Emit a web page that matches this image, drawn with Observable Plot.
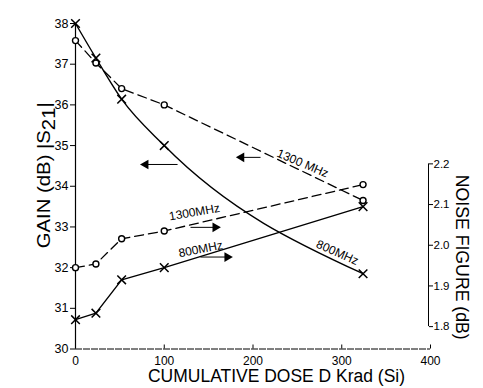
<!DOCTYPE html>
<html>
<head>
<meta charset="utf-8">
<script src="https://cdn.jsdelivr.net/npm/d3@7"></script>
<script src="https://cdn.jsdelivr.net/npm/@observablehq/plot@0.6"></script>
<style>
  html, body { margin: 0; padding: 0; background: #fff; }
  #chart { width: 483px; height: 388px; }
</style>
</head>
<body>
<div id="chart"></div>
<script>
// ---- data ----
const dose      = [0, 23, 52, 100, 324];               // Krad (Si)
const gain800   = [38.0, 37.15, 36.14, 35.0, 31.85];    // dB, left axis
const gain1300  = [37.58, 37.03, 36.4, 36.0, 33.65];    // dB, left axis
const nf800     = [1.817, 1.833, 1.915, 1.945, 2.095];  // dB, right axis
const nf1300    = [1.945, 1.954, 2.016, 2.035, 2.149];  // dB, right axis

const xTicks    = [0, 100, 200, 300, 400];
const gainTicks = [30, 31, 32, 33, 34, 35, 36, 37, 38];
const nfTicks   = [1.8, 1.9, 2.0, 2.1, 2.2];

const xLabel  = "CUMULATIVE DOSE D Krad (Si)";
const yLabel  = "GAIN (dB) |S21|";
const y2Label = "NOISE FIGURE (dB)";

// annotation anchors (data coordinates)
const noteText   = ["1300 MHz", "800MHz", "1300MHz", "800MHz"];
const noteDose   = [256, 295, 134, 141];
const noteGain   = [34.56, 32.37, 33.36, 32.45];
const noteAngle  = [23, 24, -10, -11];

const arrowFrom  = [208.5, 115, 129.6, 140.8];
const arrowTo    = [187, 79, 157.5, 171];
const arrowGain  = [34.71, 34.535, 32.99, 32.26];
const arrowDir   = [-1, -1, 1, 1];   // -1 = points left (gain axis), 1 = points right (NF axis)

// right axis shares the frame: 1.8 dB NF sits at 30.55 on the gain scale, 0.1 dB NF = 1 dB gain
const NF_REF = 1.8, GAIN_AT_NF_REF = 30.55, GAIN_PER_NF = 10;
const nfToY = v => GAIN_AT_NF_REF + (v - NF_REF) * GAIN_PER_NF;

const rows = ys => dose.map((d, i) => ({x: d, y: ys[i]}));
const g800 = rows(gain800), g1300 = rows(gain1300);
const n800 = rows(nf800.map(nfToY)), n1300 = rows(nf1300.map(nfToY));
const notes = noteText.map((t, i) => ({t, x: noteDose[i], y: noteGain[i], r: noteAngle[i]}));
const arrows = arrowFrom.map((x1, i) => ({x1, x2: arrowTo[i], y: arrowGain[i], dir: arrowDir[i]}));

const FONT = "'Liberation Sans Narrow', 'Liberation Sans', Arial, sans-serif";

const chart = Plot.plot({
  width: 483,
  height: 388,
  marginLeft: 75,
  marginRight: 53,
  marginTop: 23,
  marginBottom: 39.5,
  x: {domain: [0, 400]},
  y: {domain: [30, 38]},
  style: {fontFamily: FONT, fontSize: "12.5px", color: "black", background: "white"},
  marks: [
    // axis lines
    Plot.ruleX([0], {stroke: "black", strokeWidth: 1.2}),
    Plot.ruleY([30], {stroke: "black", strokeWidth: 1, strokeDasharray: "7,1"}),
    Plot.ruleX([400], {y1: nfToY(nfTicks[0]), y2: nfToY(nfTicks[nfTicks.length - 1]), dx: -2, stroke: "black", strokeWidth: 1}),
    // axes
    Plot.axisY({ticks: gainTicks, tickSize: 5, tickPadding: 2, label: null, tickFormat: d => d}),
    Plot.axisX({ticks: xTicks, tickSize: -4, tickPadding: 11.5, fontSize: 12, label: null, tickFormat: d => d}),
    Plot.axisY({anchor: "right", ticks: nfTicks.map(nfToY), tickSize: 4, tickPadding: 1, dx: -2, fontSize: 11.5, label: null,
                tickFormat: d => ((d - GAIN_AT_NF_REF) / GAIN_PER_NF + NF_REF).toFixed(1)}),
    // gain curves
    Plot.line(g800, {x: "x", y: "y", curve: "monotone-x", stroke: "black", strokeWidth: 1.4}),
    Plot.line(g1300, {x: "x", y: "y", stroke: "black", strokeWidth: 1.3, strokeDasharray: "9,5"}),
    // noise figure curves
    Plot.line(n800, {x: "x", y: "y", stroke: "black", strokeWidth: 1.4}),
    Plot.line(n1300, {x: "x", y: "y", stroke: "black", strokeWidth: 1.3, strokeDasharray: "9,5"}),
    // markers
    Plot.dot(g800, {x: "x", y: "y", symbol: "times", r: 4, stroke: "black", strokeWidth: 1.5}),
    Plot.dot(n800, {x: "x", y: "y", symbol: "times", r: 4, stroke: "black", strokeWidth: 1.5}),
    Plot.dot(g1300, {x: "x", y: "y", symbol: "circle", r: 3, stroke: "black", fill: "white", strokeWidth: 1.4}),
    Plot.dot(n1300, {x: "x", y: "y", symbol: "circle", r: 3, stroke: "black", fill: "white", strokeWidth: 1.4}),
    // arrows
    Plot.link(arrows, {x1: "x1", x2: "x2", y1: "y", y2: "y", stroke: "black", strokeWidth: 1}),
    Plot.dot(arrows, {x: "x2", y: "y", symbol: "triangle", r: 3.6, fill: "black", stroke: "none",
                      rotate: d => d.dir * 90}),
    // curve labels
    Plot.text(notes, {x: "x", y: "y", text: "t", rotate: "r", fontSize: 12, fill: "black",
                      fontFamily: "'Liberation Sans', Arial, sans-serif"}),
    // axis titles
    Plot.text([xLabel], {frameAnchor: "bottom", dx: 23.5, dy: 32.5, fontSize: 18, fill: "black"}),
    Plot.text([yLabel], {frameAnchor: "left", dx: -31.5, dy: -11, rotate: -90, fontSize: 18, fill: "black"}),
    Plot.text([y2Label], {frameAnchor: "right", dx: 31.5, dy: 71, rotate: 90, fontSize: 19, fill: "black"})
  ]
});

document.getElementById("chart").appendChild(chart);

// fit axis titles to the lengths seen in the figure (centred on their anchor), add the S21 subscript
const titleLengths = new Map([[xLabel, 257], [y2Label, 165], [yLabel, 146]]);
d3.select(chart).selectAll("text").each(function () {
  const t = this.textContent;
  if (!titleLengths.has(t)) return;
  const L = titleLengths.get(t);
  const el = d3.select(this);
  if (t === yLabel) {
    el.selectAll("*").remove();
    el.text("GAIN (dB) |S");
    el.append("tspan").attr("dy", "0.3em").text("21");
    el.append("tspan").attr("dy", "-0.3em").text("|");
  }
  el.attr("text-anchor", "start")
    .attr("x", -L / 2)
    .attr("textLength", L)
    .attr("lengthAdjust", "spacingAndGlyphs");
});
</script>
</body>
</html>
